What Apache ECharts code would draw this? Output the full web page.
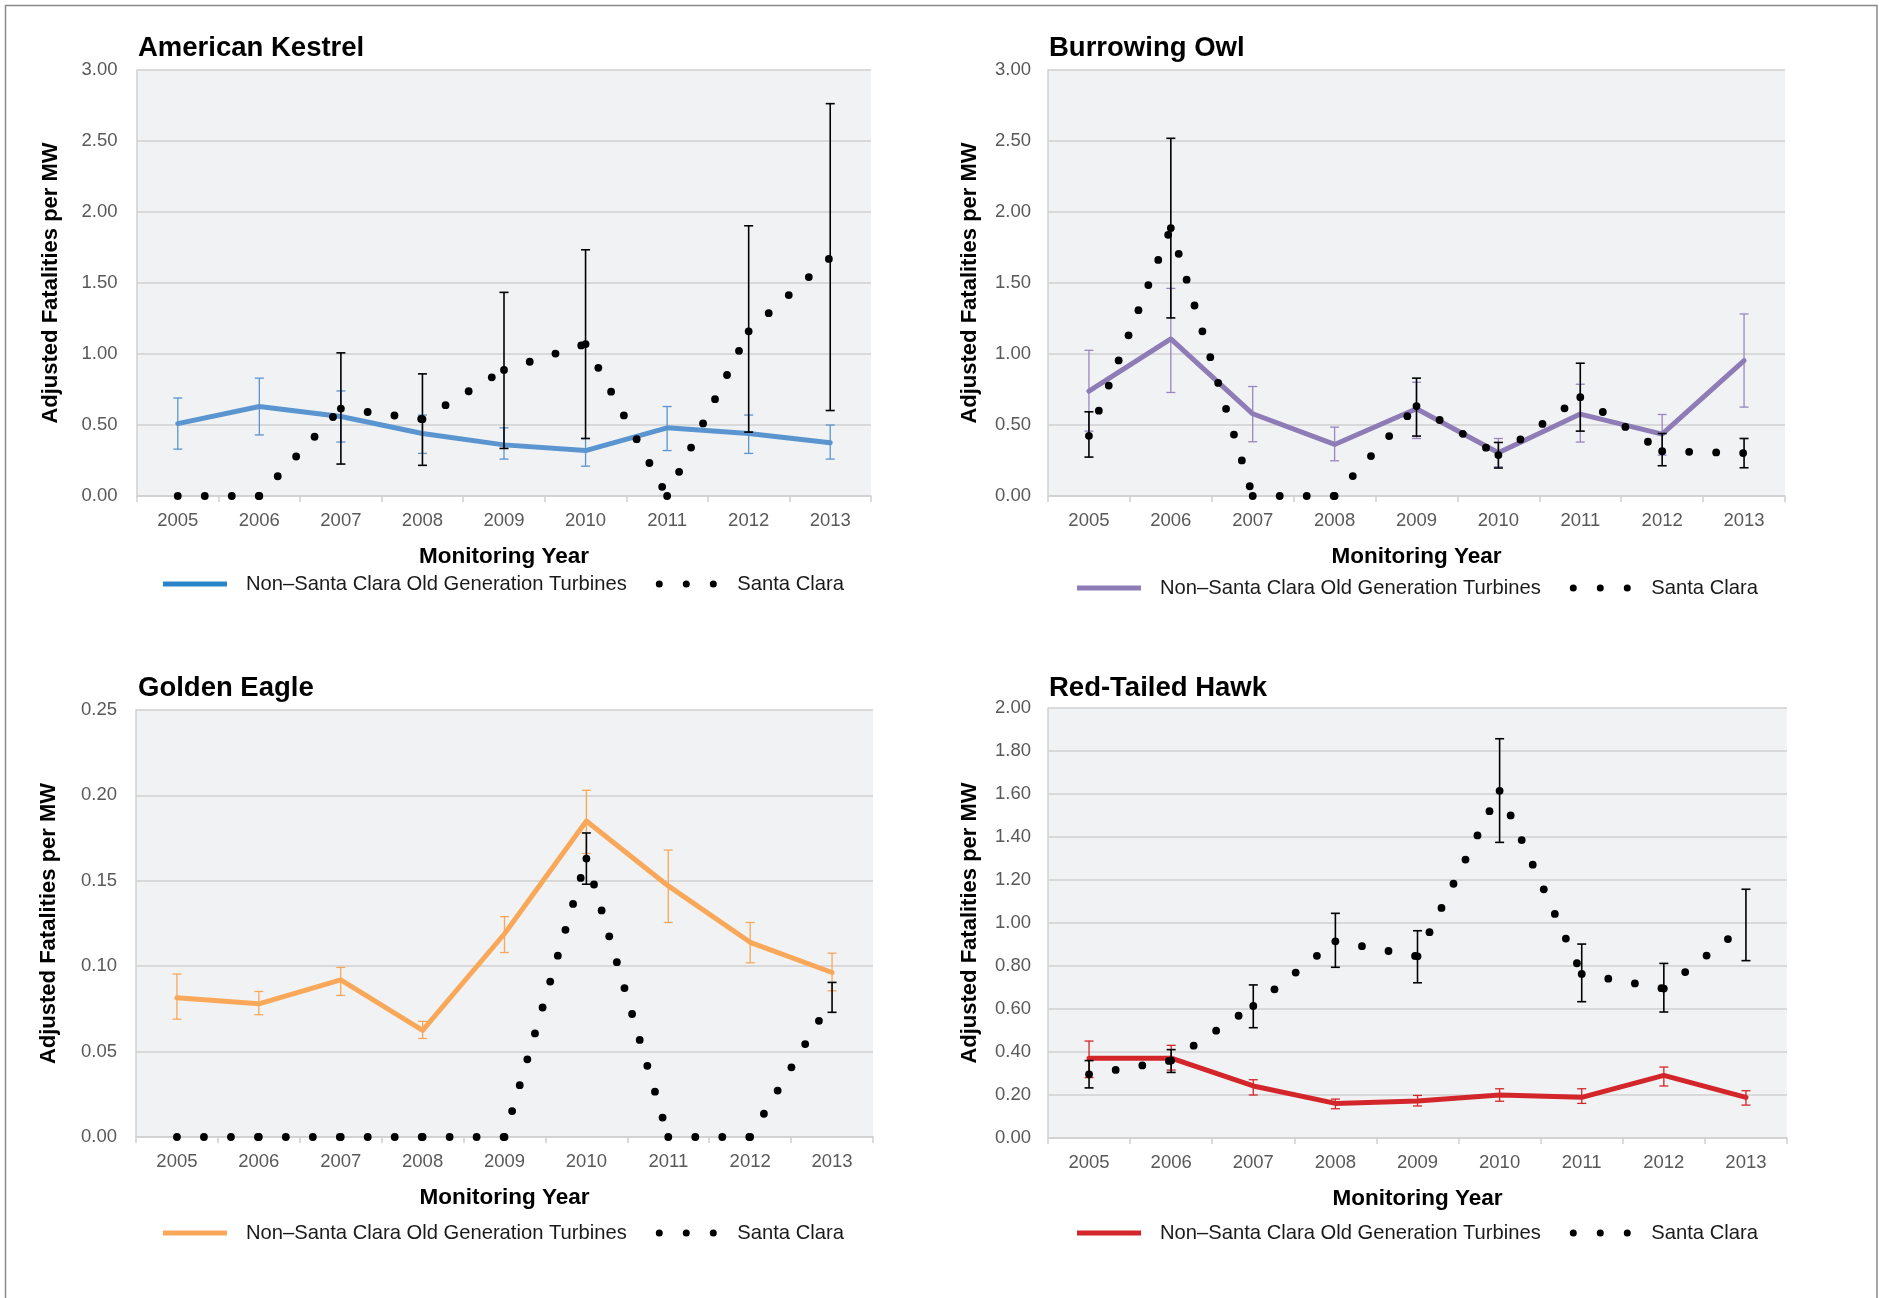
<!DOCTYPE html>
<html>
<head>
<meta charset="utf-8">
<script src="https://cdn.jsdelivr.net/npm/echarts@6/dist/echarts.min.js"></script>
<style>
html,body{margin:0;padding:0;background:#fff;}
#c{width:1879px;height:1298px;}
</style>
</head>
<body>
<div id="c"></div>
<script>
// ---------------- DATA ----------------
const years = ['2005','2006','2007','2008','2009','2010','2011','2012','2013'];

// American Kestrel
const kestrelNon     = [0.51, 0.63, 0.56, 0.44, 0.36, 0.32, 0.48, 0.44, 0.375];
const kestrelNonLow  = [0.33, 0.43, 0.38, 0.30, 0.26, 0.21, 0.32, 0.30, 0.26];
const kestrelNonHigh = [0.69, 0.83, 0.74, 0.57, 0.48, 0.405, 0.63, 0.57, 0.50];
const kestrelSC      = [0, 0, 0.616, 0.541, 0.888, 1.07, 0, 1.16, 1.678];
const kestrelSCLow   = [null, null, 0.225, 0.216, 0.335, 0.405, null, 0.45, 0.602];
const kestrelSCHigh  = [null, null, 1.008, 0.86, 1.434, 1.734, null, 1.903, 2.763];

// Burrowing Owl
const owlNon     = [0.738, 1.106, 0.579, 0.363, 0.614, 0.305, 0.577, 0.436, 0.954];
const owlNonLow  = [0.457, 0.729, 0.382, 0.248, 0.405, 0.206, 0.380, 0.288, 0.626];
const owlNonHigh = [1.026, 1.462, 0.771, 0.485, 0.801, 0.405, 0.787, 0.574, 1.282];
const owlSC      = [0.424, 1.887, 0, 0, 0.633, 0.288, 0.696, 0.316, 0.302];
const owlSCLow   = [0.274, 1.254, null, null, 0.422, 0.197, 0.457, 0.213, 0.199];
const owlSCHigh  = [0.593, 2.519, null, null, 0.830, 0.377, 0.935, 0.44, 0.405];

// Golden Eagle
const eagleNon     = [0.0815, 0.078, 0.092, 0.0624, 0.119, 0.185, 0.147, 0.114, 0.0963];
const eagleNonLow  = [0.069, 0.0716, 0.0829, 0.0577, 0.108, 0.166, 0.1256, 0.102, 0.0856];
const eagleNonHigh = [0.0954, 0.0852, 0.0993, 0.0677, 0.129, 0.203, 0.168, 0.1256, 0.1076];
const eagleSC      = [0, 0, 0, 0, 0, 0.163, 0, 0, 0.081];
const eagleSCLow   = [null, null, null, null, null, 0.148, null, null, 0.073];
const eagleSCHigh  = [null, null, null, null, null, 0.178, null, null, 0.0905];

// Red-Tailed Hawk
const hawkNon     = [0.371, 0.371, 0.242, 0.161, 0.172, 0.200, 0.189, 0.291, 0.189];
const hawkNonLow  = [0.281, 0.316, 0.200, 0.136, 0.149, 0.171, 0.161, 0.242, 0.153];
const hawkNonHigh = [0.451, 0.431, 0.271, 0.181, 0.198, 0.229, 0.229, 0.330, 0.220];
const hawkSC      = [0.296, 0.360, 0.614, 0.915, 0.845, 1.615, 0.763, 0.695, 0.99];
const hawkSCLow   = [0.233, 0.305, 0.513, 0.794, 0.722, 1.375, 0.634, 0.586, 0.825];
const hawkSCHigh  = [0.36, 0.411, 0.712, 1.045, 0.964, 1.857, 0.902, 0.812, 1.157];

const NON_NAME = 'Non\u2013Santa Clara Old Generation Turbines';
const SC_NAME = 'Santa Clara';
const Y_NAME = 'Adjusted Fatalities per MW';
const X_NAME = 'Monitoring Year';

// ---------------- LAYOUT / STYLE ----------------
const FONT = "'Liberation Sans', Arial, Helvetica, sans-serif";
const DOT_SPACING = 27;
const DOT_R = 3.9;
const LINE_ICON = 'path://M0,1L64,1L64,6L0,6Z';
const DOTS_ICON = 'path://M0,3.5A3.5,3.5,0,1,1,7,3.5A3.5,3.5,0,1,1,0,3.5Z' +
  'M27,3.5A3.5,3.5,0,1,1,34,3.5A3.5,3.5,0,1,1,27,3.5Z' +
  'M54,3.5A3.5,3.5,0,1,1,61,3.5A3.5,3.5,0,1,1,54,3.5Z';

const panels = [
  { title: 'American Kestrel', color: '#5b95cf', errColor: '#5b95cf', legendColor: '#2a85c8',
    non: kestrelNon, nonLow: kestrelNonLow, nonHigh: kestrelNonHigh,
    sc: kestrelSC, scLow: kestrelSCLow, scHigh: kestrelSCHigh,
    max: 3, interval: 0.5,
    grid: { left: 137, top: 70, width: 734, height: 426 },
    titlePos: { left: 138, top: 34 }, legendPos: { left: 163, top: 574 },
    nameGap: 75, labelMargin: 19.5 },
  { title: 'Burrowing Owl', color: '#8e7cb7', errColor: '#9986c0', legendColor: '#8e7cb7',
    non: owlNon, nonLow: owlNonLow, nonHigh: owlNonHigh,
    sc: owlSC, scLow: owlSCLow, scHigh: owlSCHigh,
    max: 3, interval: 0.5,
    grid: { left: 1048, top: 70, width: 737, height: 426 },
    titlePos: { left: 1049, top: 34 }, legendPos: { left: 1077, top: 578 },
    nameGap: 67, labelMargin: 17 },
  { title: 'Golden Eagle', color: '#f9a85a', errColor: '#f9a85a', legendColor: '#f9a85a',
    non: eagleNon, nonLow: eagleNonLow, nonHigh: eagleNonHigh,
    sc: eagleSC, scLow: eagleSCLow, scHigh: eagleSCHigh,
    max: 0.25, interval: 0.05,
    grid: { left: 136, top: 710, width: 737, height: 427 },
    titlePos: { left: 138, top: 674 }, legendPos: { left: 163, top: 1223 },
    nameGap: 76, labelMargin: 19 },
  { title: 'Red-Tailed Hawk', color: '#d3262b', errColor: '#d3262b', legendColor: '#d3262b',
    non: hawkNon, nonLow: hawkNonLow, nonHigh: hawkNonHigh,
    sc: hawkSC, scLow: hawkSCLow, scHigh: hawkSCHigh,
    max: 2, interval: 0.2,
    grid: { left: 1048, top: 708, width: 739, height: 430 },
    titlePos: { left: 1049, top: 674 }, legendPos: { left: 1077, top: 1223 },
    nameGap: 67, labelMargin: 17 }
];

function dotRenderer(vals) {
  return function (params, api) {
    const i = params.dataIndex;
    if (i >= vals.length - 1) return null;
    const p0 = api.coord([i, vals[i]]);
    const p1 = api.coord([i + 1, vals[i + 1]]);
    const dx = p1[0] - p0[0], dy = p1[1] - p0[1];
    const len = Math.hypot(dx, dy);
    const children = [];
    for (let t = 0; t <= len + 0.5; t += DOT_SPACING) {
      const f = len > 0 ? t / len : 0;
      children.push({ type: 'circle', shape: { cx: p0[0] + dx * f, cy: p0[1] + dy * f, r: DOT_R },
        style: { fill: '#000' } });
    }
    return { type: 'group', children: children };
  };
}

function errRenderer(color, width) {
  return function (params, api) {
    const i = api.value(0), lo = api.value(1), hi = api.value(2);
    const a = api.coord([i, lo]), b = api.coord([i, hi]);
    const w = 4.5;
    const st = { stroke: color, lineWidth: width };
    return { type: 'group', children: [
      { type: 'line', shape: { x1: a[0], y1: a[1], x2: b[0], y2: b[1] }, style: st },
      { type: 'line', shape: { x1: a[0] - w, y1: a[1], x2: a[0] + w, y2: a[1] }, style: st },
      { type: 'line', shape: { x1: b[0] - w, y1: b[1], x2: b[0] + w, y2: b[1] }, style: st }
    ] };
  };
}

function errData(lo, hi) {
  const out = [];
  lo.forEach((v, i) => { if (v != null && hi[i] != null) out.push([i, v, hi[i]]); });
  return out;
}

const option = {
  backgroundColor: '#ffffff',
  animation: false,
  title: [], grid: [], xAxis: [], yAxis: [], legend: [], series: [],
  graphic: [{
    type: 'rect', silent: true, z: 100,
    shape: { x: 5.5, y: 5.5, width: 1871.5, height: 1300 },
    style: { fill: 'none', stroke: '#8a8a8a', lineWidth: 1.5 }
  }]
};

panels.forEach((p, k) => {
  option.title.push({
    text: p.title, left: p.titlePos.left, top: p.titlePos.top, padding: 0,
    textStyle: { fontFamily: FONT, fontSize: 27.5, fontWeight: 'bold', color: '#000' }
  });
  option.grid.push(Object.assign({ show: true, backgroundColor: '#f1f2f4', borderWidth: 0, containLabel: false }, p.grid));
  option.xAxis.push({
    gridIndex: k, type: 'category', data: years, boundaryGap: true,
    axisLine: { show: true, lineStyle: { color: '#d0d0d0', width: 1.5 } },
    axisTick: { show: true, length: 6, lineStyle: { color: '#d0d0d0', width: 1.5 } },
    axisLabel: { color: '#595959', fontSize: 18.5, fontFamily: FONT, margin: 15 },
    splitLine: { show: false },
    name: X_NAME, nameLocation: 'middle', nameGap: 49,
    nameTextStyle: { fontFamily: FONT, fontSize: 22.5, fontWeight: 'bold', color: '#000' }
  });
  option.yAxis.push({
    gridIndex: k, type: 'value', min: 0, max: p.max, interval: p.interval,
    axisLine: { show: true, lineStyle: { color: '#d0d0d0', width: 1.5 } },
    axisTick: { show: false },
    splitLine: { show: true, lineStyle: { color: '#d0d0d0', width: 1.5 } },
    axisLabel: { color: '#595959', fontSize: 18.5, fontFamily: FONT, margin: p.labelMargin,
      formatter: v => v.toFixed(2) },
    name: Y_NAME, nameLocation: 'middle', nameGap: p.nameGap,
    nameTextStyle: { fontFamily: FONT, fontSize: 22, fontWeight: 'bold', color: '#000' }
  });
  option.legend.push({
    left: p.legendPos.left, top: p.legendPos.top, orient: 'horizontal', padding: 0,
    itemGap: 29, itemWidth: 64, itemHeight: 7, selectedMode: false,
    textStyle: { fontFamily: FONT, fontSize: 20.2, color: '#1a1a1a', padding: [0, 0, 0, 14] },
    data: [
      { name: NON_NAME, icon: LINE_ICON, itemStyle: { color: p.legendColor, borderWidth: 0 } },
      { name: SC_NAME, icon: DOTS_ICON, itemStyle: { color: '#000', borderWidth: 0 } }
    ]
  });
  // Non-Santa Clara error bars
  option.series.push({
    type: 'custom', name: 'nonErr' + k, xAxisIndex: k, yAxisIndex: k,
    data: errData(p.nonLow, p.nonHigh), encode: { x: 0, y: [1, 2] },
    renderItem: errRenderer(p.errColor, 1.3), silent: true, z: 2
  });
  // Non-Santa Clara line
  option.series.push({
    type: 'line', name: NON_NAME, xAxisIndex: k, yAxisIndex: k,
    data: p.non, showSymbol: false, symbol: 'none', silent: true, z: 3,
    itemStyle: { color: p.color },
    lineStyle: { color: p.color, width: 5, join: 'round', cap: 'round' }
  });
  // Santa Clara error bars
  option.series.push({
    type: 'custom', name: 'scErr' + k, xAxisIndex: k, yAxisIndex: k,
    data: errData(p.scLow, p.scHigh), encode: { x: 0, y: [1, 2] },
    renderItem: errRenderer('#000', 1.6), silent: true, z: 4
  });
  // Santa Clara dotted line
  option.series.push({
    type: 'custom', name: SC_NAME, xAxisIndex: k, yAxisIndex: k,
    data: p.sc.map((v, i) => [i, v]), encode: { x: 0, y: 1 },
    itemStyle: { color: '#000' },
    renderItem: dotRenderer(p.sc), silent: true, z: 5, clip: false
  });
});

const chart = echarts.init(document.getElementById('c'), null, { renderer: 'canvas' });
chart.setOption(option);
</script>
</body>
</html>
